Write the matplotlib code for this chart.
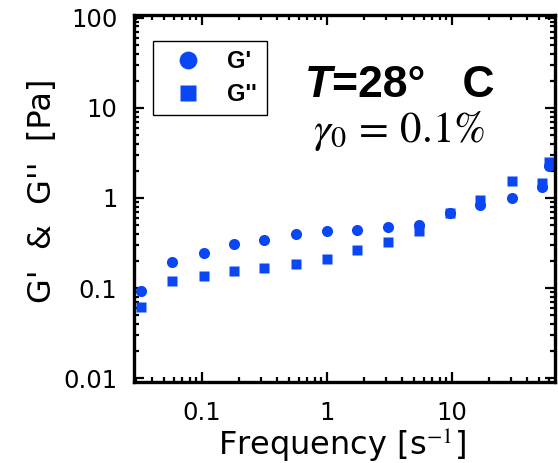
import matplotlib
matplotlib.use("Agg")
import matplotlib.pyplot as plt

# frequency sweep, s^-1
freq = [0.0327, 0.0575, 0.104, 0.182, 0.317, 0.571, 1.0, 1.76, 3.07, 5.5, 9.7, 16.8, 30.4, 53.0, 60.5]
# storage modulus G' [Pa]
g_storage = [0.093, 0.196, 0.247, 0.308, 0.341, 0.401, 0.430, 0.441, 0.472, 0.495, 0.68, 0.83, 0.99, 1.33, 2.27]
# loss modulus G'' [Pa]
g_loss = [0.0615, 0.120, 0.137, 0.156, 0.168, 0.185, 0.210, 0.264, 0.327, 0.435, 0.676, 0.95, 1.56, 1.48, 2.48]

x_ticks = [0.1, 1, 10]
x_ticklabels = ['0.1', '1', '10']
y_ticks = [0.01, 0.1, 1, 10, 100]
y_ticklabels = ['0.01', '0.1', '1', '10', '100']

blue = '#0846f6'
plt.rcParams['mathtext.fontset'] = 'stix'

fig = plt.figure(figsize=(5.58, 4.63), dpi=100)
ax = fig.add_axes([134/558, (463-381.5)/463, (555-134)/558, (381.5-15)/463])

ax.plot(freq, g_storage, 'o', ms=8, color=blue, mec='none', label="G'")
ax.plot(freq, g_loss, 's', ms=7.4, color=blue, mec='none', label="G''")

ax.set_xscale('log')
ax.set_yscale('log')
ax.set_xlim(0.0287, 67)
ax.set_ylim(0.0092, 107)

ax.set_xticks(x_ticks)
ax.set_xticklabels(x_ticklabels)
ax.set_yticks(y_ticks)
ax.set_yticklabels(y_ticklabels)

for s in ax.spines.values():
    s.set_linewidth(2.4)
ax.tick_params(which='both', direction='in', top=True, right=True, width=1.6)
ax.tick_params(which='major', length=7)
ax.tick_params(which='minor', length=3.8)
ax.tick_params(axis='x', which='major', labelsize=17.5, pad=14)
ax.tick_params(axis='y', which='major', labelsize=17.5, pad=12)

ax.set_xlabel('Frequency [s$^{-1}$]', fontsize=23)
ax.xaxis.set_label_coords(0.494, -0.12)
ax.set_ylabel("G'  &  G''  [Pa]", fontsize=23)
ax.yaxis.set_label_coords(-0.18, 0.52)

leg = ax.legend(loc='upper left', bbox_to_anchor=(0.045, 0.929), borderaxespad=0,
                prop=dict(family='Liberation Sans', weight='bold', size=17),
                markerscale=1.6, handlelength=2.2, handletextpad=0.55,
                labelspacing=0.4, borderpad=0.4, fancybox=False, framealpha=1)
leg.get_frame().set_edgecolor('black')
leg.get_frame().set_linewidth(1.0)

# temperature and strain amplitude
t = ax.text(0.406, 0.777, 'T', transform=ax.transAxes, fontsize=32,
            fontweight='bold', fontstyle='italic', family='Liberation Sans', va='baseline')
ax.annotate('=28°   C', xy=(1, 0), xycoords=t, va='bottom', ha='left',
            fontsize=32, fontweight='bold', family='Liberation Sans')
ax.text(0.426, 0.653, r'$\gamma_0\,=\,\mathrm{0.1\%}$', transform=ax.transAxes,
        fontsize=31, va='baseline')

plt.savefig('out.png', dpi=100)
